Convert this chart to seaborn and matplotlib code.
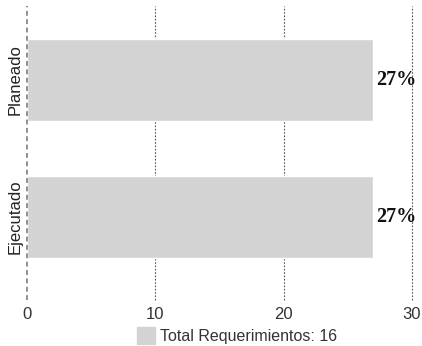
import matplotlib
matplotlib.use("Agg")
import matplotlib.pyplot as plt
import matplotlib.patches as mpatches
import seaborn as sns
import pandas as pd

categories = ["Planeado", "Ejecutado"]
values = [27, 27]
value_labels = ["27%", "27%"]
x_ticks = [0, 10, 20, 30]
legend_label = "Total Requerimientos: 16"
bar_color = "#d3d3d3"

df = pd.DataFrame({"categoria": categories, "valor": values})

sns.set_style("white")
plt.rcParams["font.family"] = ["Liberation Sans", "DejaVu Sans"]

fig = plt.figure(figsize=(4.22, 3.46), dpi=100)
ax = fig.add_axes([0.064, 0.133, 0.912, 0.85])

sns.barplot(data=df, x="valor", y="categoria", orient="h", color=bar_color,
            saturation=1, width=0.6, ax=ax)

ax.set_xlim(0, 30)
ax.set_ylim(1.606, -0.54)
ax.set_xticks(x_ticks)
ax.set_xticklabels([str(t) for t in x_ticks], fontsize=12, color="#333333")
ax.set_yticks(range(len(categories)))
ax.set_yticklabels(categories, rotation=90, va="center", fontsize=12, color="#222222")
ax.tick_params(axis="x", length=0, pad=5)
ax.tick_params(axis="y", length=0, pad=3)
ax.set_xlabel("")
ax.set_ylabel("")
for s in ax.spines.values():
    s.set_visible(False)

# vertical reference lines: dashed at zero, dotted elsewhere
for t in x_ticks:
    if t == 0:
        ax.axvline(t, color="#8f8f8f", lw=1.4, ls=(0, (2.5, 1.8)), zorder=3, clip_on=False)
    else:
        ax.axvline(t, color="#555555", lw=0.8, ls=(0, (1.5, 1.5)), zorder=0, clip_on=False)

for i, (v, lab) in enumerate(zip(values, value_labels)):
    ax.text(v + 0.2, i, lab, va="center", ha="left", fontsize=14.5,
            fontweight="bold", family=["Liberation Serif", "DejaVu Serif"], color="#111111")

handle = mpatches.Patch(color=bar_color, label=legend_label)
fig.legend(handles=[handle], loc="center", bbox_to_anchor=(0.562, 0.03),
           frameon=False, fontsize=11.5, handlelength=1.1, handleheight=1.2,
           handletextpad=0.35, labelcolor="#333333", borderpad=0.2)

fig.savefig("out.png", dpi=100)
